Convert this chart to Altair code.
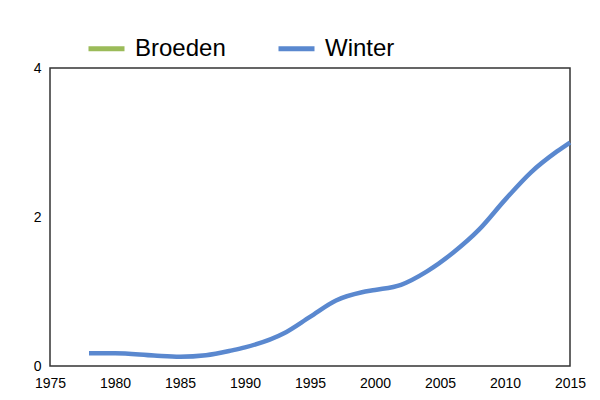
import altair as alt
import pandas as pd

series = ["Broeden", "Winter"]
colors = ["#9BBB59", "#5A88CF"]

years = [1978, 1980, 1983, 1985, 1987, 1989, 1990, 1993, 1995, 1997, 1999, 2000, 2002, 2004, 2006, 2008, 2010, 2012, 2014, 2015]
winter = [0.17, 0.17, 0.14, 0.125, 0.145, 0.21, 0.25, 0.44, 0.66, 0.88, 0.99, 1.02, 1.09, 1.27, 1.52, 1.83, 2.23, 2.60, 2.88, 3.0]

x_ticks = [1975, 1980, 1985, 1990, 1995, 2000, 2005, 2010, 2015]
y_ticks = [0, 2, 4]

df = pd.DataFrame({"jaar": years, "index": winter, "reeks": ["Winter"] * len(years)})

font = "Liberation Sans"

chart = alt.Chart(df).mark_line(strokeWidth=4.5, interpolate="monotone").encode(
    x=alt.X("jaar:Q", scale=alt.Scale(domain=[1975, 2015], nice=False),
            axis=alt.Axis(values=x_ticks, format="d", title=None, ticks=False, grid=False,
                          domain=False, labelFontSize=14, labelPadding=10, labelFont=font,
                          labelColor="#000", labelFlush=False)),
    y=alt.Y("index:Q", scale=alt.Scale(domain=[0, 4], nice=False),
            axis=alt.Axis(values=y_ticks, title=None, ticks=False, grid=False, domain=False,
                          labelFontSize=14, labelPadding=9, labelFont=font, labelColor="#000")),
    color=alt.Color("reeks:N", scale=alt.Scale(domain=series, range=colors),
                    legend=alt.Legend(title=None, orient="none", direction="horizontal",
                                      legendX=36, legendY=-40, symbolType="stroke",
                                      symbolSize=1296, symbolStrokeWidth=5,
                                      labelFontSize=24, labelFont=font, labelColor="#000",
                                      labelOffset=8, columnPadding=42)),
).properties(
    width=520, height=298,
    autosize=alt.AutoSizeParams(type="none"),
    padding={"left": 42, "top": 60, "right": 18, "bottom": 26},
).configure_view(stroke="#333333", strokeWidth=1.5)

chart.save("out.html", embed_options={"renderer": "svg", "actions": False})
